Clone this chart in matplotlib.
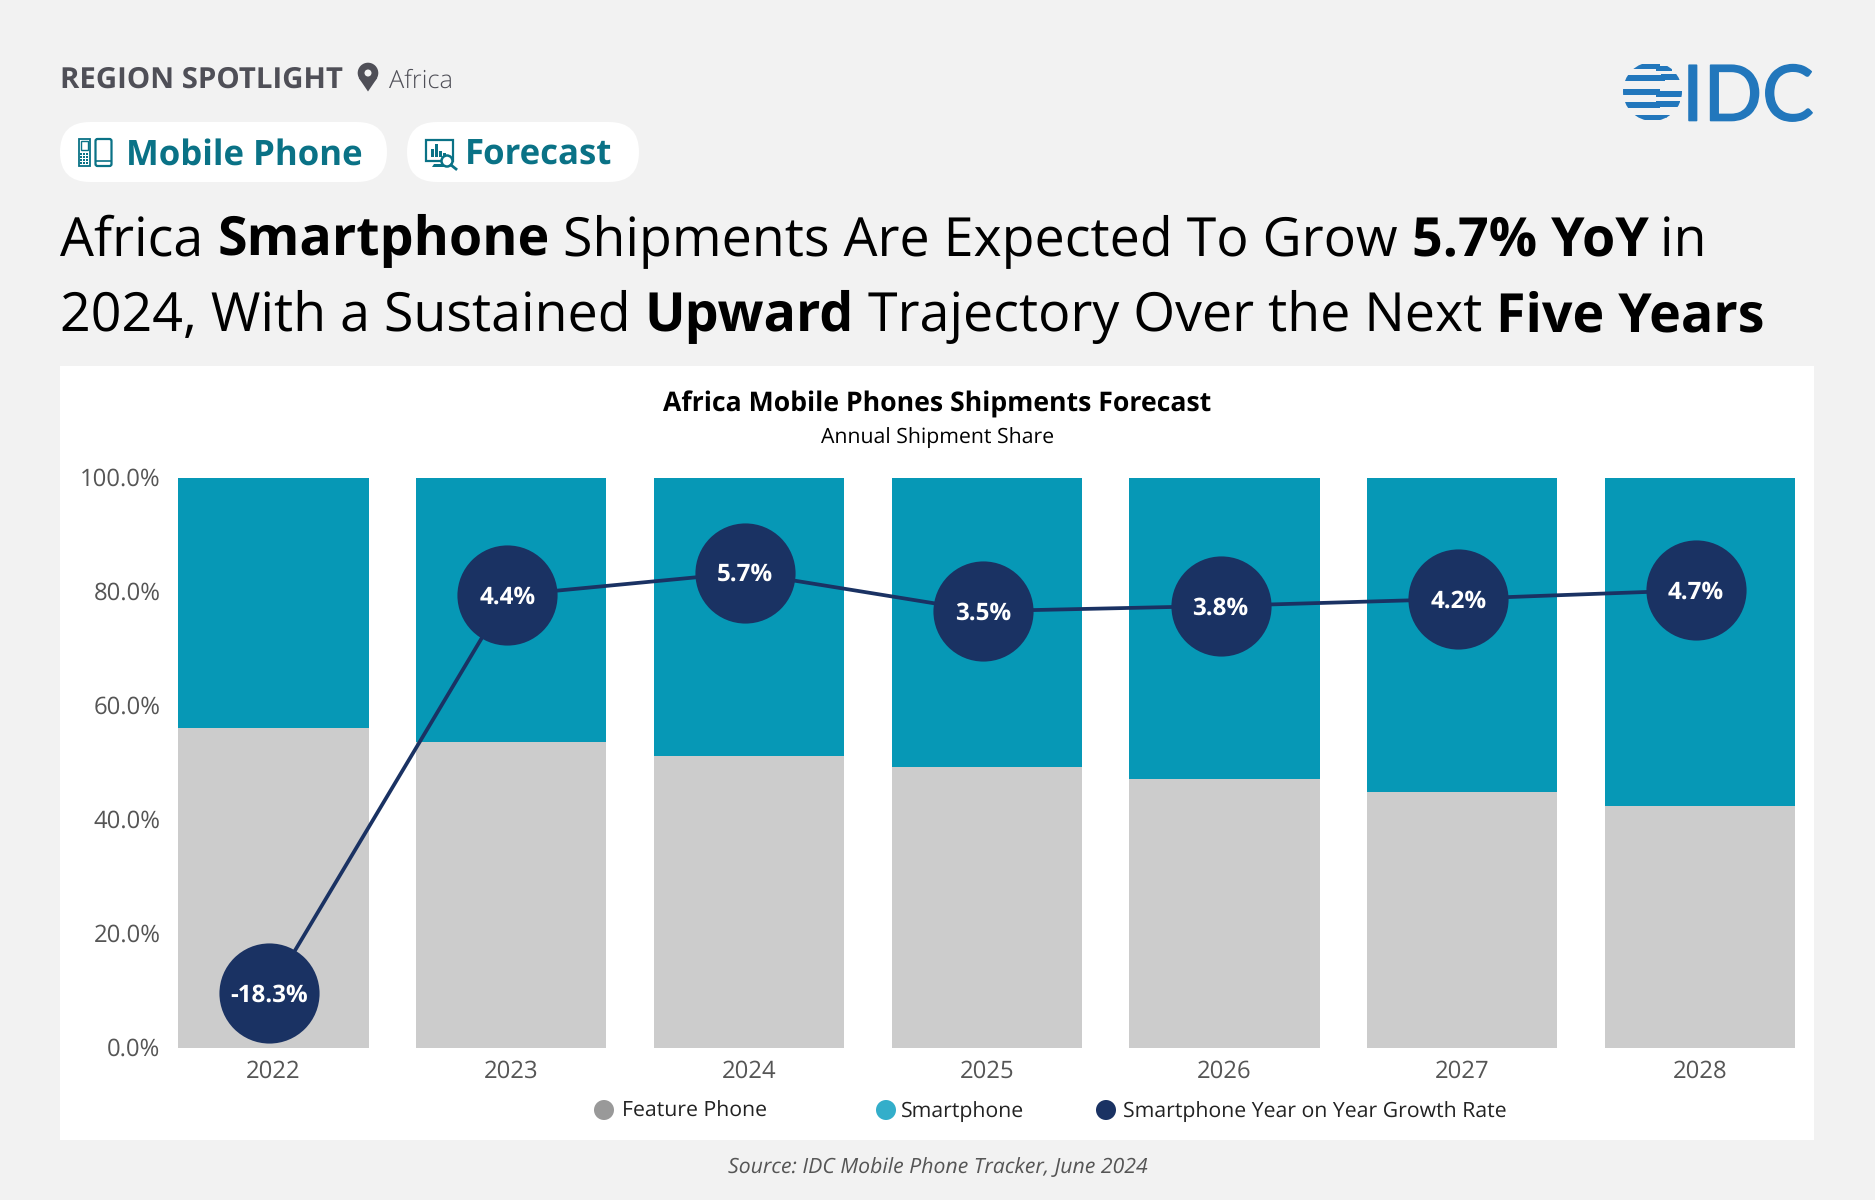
import matplotlib
matplotlib.use('Agg')
import matplotlib.pyplot as plt
import matplotlib.patheffects as pe
from matplotlib.patches import Circle, FancyBboxPatch, Polygon, Rectangle
from matplotlib.transforms import ScaledTranslation

plt.rcParams['font.family'] = ['Open Sans', 'DejaVu Sans']
plt.rcParams['text.hinting'] = 'none'

years = ['2022', '2023', '2024', '2025', '2026', '2027', '2028']
feature_share = [56.1, 53.6, 51.1, 49.2, 47.1, 44.8, 42.4]
smart_share = [43.9, 46.4, 48.9, 50.8, 52.9, 55.2, 57.6]
growth = [-18.3, 4.4, 5.7, 3.5, 3.8, 4.2, 4.7]
growth_labels = ['-18.3%', '4.4%', '5.7%', '3.5%', '3.8%', '4.2%', '4.7%']
y_ticks = [0, 20, 40, 60, 80, 100]

title_line1 = [('Africa ', 'normal'), ('Smartphone', 'bold'), (' Shipments Are Expected To Grow ', 'normal'),
               ('5.7% YoY', 'bold'), (' in', 'normal')]
title_line2 = [('2024, With a Sustained ', 'normal'), ('Upward', 'bold'), (' Trajectory Over the Next ', 'normal'),
               ('Five Years', 'bold')]

BG = '#F2F2F2'
TEAL = '#0698B6'
GREY = '#CCCCCC'
NAVY = '#1A3263'
PILL_TEXT = '#0A7286'
DARK = '#4F4F57'
LOGO = '#2277BC'

W, H = 1875, 1200
fig = plt.figure(figsize=(W / 100, H / 100), dpi=100, facecolor=BG)


# page furniture lives on a full figure axes in pixel coords
page = fig.add_axes([0, 0, 1, 1], zorder=0)
page.set_xlim(0, W)
page.set_ylim(H, 0)
page.axis('off')


def rich_text(x, y, runs, size):
    rend = fig.canvas.get_renderer()
    for s, weight in runs:
        page.text(x, y, s, fontsize=size, fontweight=weight, color='black', va='baseline', ha='left')
        # trailing spaces are not measured on their own, so pad with a dot
        a = page.text(0, 0, s + '.', fontsize=size, fontweight=weight)
        b = page.text(0, 0, '.', fontsize=size, fontweight=weight)
        x += a.get_window_extent(rend).width - b.get_window_extent(rend).width
        a.remove()
        b.remove()


def pill(x0, x1, y0, y1):
    page.add_patch(FancyBboxPatch((x0, y0), x1 - x0, y1 - y0, boxstyle='round,pad=0,rounding_size=30',
                                  fc='white', ec='none'))


def draw_phone_icons():
    page.add_patch(Rectangle((78.5, 139), 11, 27, fc='none', ec=PILL_TEXT, lw=1.3))
    page.add_patch(Rectangle((80.5, 141), 7, 9, fc='none', ec=PILL_TEXT, lw=1))
    for row in range(4):
        for col in range(3):
            page.add_patch(Rectangle((80 + col * 3, 153 + row * 3), 2.2, 2.2, fc=PILL_TEXT, ec='none'))
    page.add_patch(FancyBboxPatch((95.5, 139), 16, 27, boxstyle='round,pad=0,rounding_size=2',
                                  fc='none', ec=PILL_TEXT, lw=1.6))
    page.plot([96, 111], [161, 161], color=PILL_TEXT, lw=1.2)


def draw_forecast_icon():
    page.add_patch(Rectangle((426, 140), 27, 21, fc='none', ec=PILL_TEXT, lw=1.6))
    for bx, bh in [(431, 8), (435, 13), (439, 6), (443, 4)]:
        page.add_patch(Rectangle((bx, 157 - bh), 2.5, bh, fc=PILL_TEXT, ec='none'))
    page.add_patch(Polygon([[434, 164], [444, 164], [446, 167], [432, 167]], fc=PILL_TEXT, ec='none'))
    page.add_patch(Circle((447, 161), 5.5, fc='white', ec=PILL_TEXT, lw=1.8))
    page.plot([451, 456], [165, 169], color=PILL_TEXT, lw=2)


def draw_pin():
    page.add_patch(Polygon([[358.8, 78], [377.2, 78], [368, 91.5]], fc=DARK, ec='none'))
    page.add_patch(Circle((368, 73), 10.3, fc=DARK, ec='none'))
    page.add_patch(Circle((368, 73), 3.5, fc=BG, ec='none'))


def draw_logo():
    clip = Circle((1652.5, 91.5), 29.5, transform=page.transData)
    # each band is two pieces with a small step, like the globe in the logo
    for y0, y1, xa, xb, step in [(64, 69, 1620, 1672, 1.5), (75, 81, 1625, 1690, -1.5), (89, 95, 1620, 1690, 1.5),
                                 (102, 108, 1620, 1680, -1.5), (115, 120, 1630, 1680, 1.5)]:
        for r in [Rectangle((xa, y0), 40, y1 - y0, fc=LOGO, ec='none'),
                  Rectangle((xa + 36, y0 + step), xb - xa - 36, y1 - y0, fc=LOGO, ec='none')]:
            page.add_patch(r)
            r.set_clip_path(clip)
    page.text(1682, 120.5, 'IDC', fontsize=55.5, family=['Lato', 'DejaVu Sans'], color=LOGO, va='baseline', ha='left',
              path_effects=[pe.withStroke(linewidth=1.2, foreground=LOGO)])


page.add_patch(Rectangle((60, 366), 1754, 774, fc='white', ec='none'))
page.text(60.5, 80.5, 'REGION SPOTLIGHT', fontsize=21.2, fontweight='bold', color=DARK, va='center', ha='left')
page.text(389, 81, 'Africa', fontsize=18.3, fontweight='light', color=DARK, va='center', ha='left')
draw_pin()
draw_logo()

pill(60, 387, 122, 182)
pill(407, 639, 122, 182)
draw_phone_icons()
draw_forecast_icon()
page.text(125.5, 155.5, 'Mobile Phone', fontsize=25, fontweight='bold', color=PILL_TEXT, va='center', ha='left')
page.text(465, 155.5, 'Forecast', fontsize=25, fontweight='bold', color=PILL_TEXT, va='center', ha='left')

rich_text(60, 255.5, title_line1, 38.7)
rich_text(60, 331, title_line2, 38.7)

page.text(937.5, 404, 'Africa Mobile Phones Shipments Forecast', fontsize=19.2, fontweight='bold',
          color='black', ha='center', va='center')
page.text(937.5, 438, 'Annual Shipment Share', fontsize=15.35, color='black', ha='center', va='center')
page.text(937.5, 1168, 'Source: IDC Mobile Phone Tracker, June 2024', fontsize=15.3, style='italic',
          color='#555555', ha='center', va='center')

# legend is unevenly spaced in the source, so it is placed by hand
for mx, tx, label, col in [(604, 622, 'Feature Phone', '#999999'), (886, 901, 'Smartphone', '#33AECA'),
                           (1106, 1123, 'Smartphone Year on Year Growth Rate', NAVY)]:
    page.add_patch(Circle((mx, 1110), 10, fc=col, ec='none'))
    page.text(tx, 1111.5, label, fontsize=15.3, color='#222222', va='center', ha='left')

# chart
x0, x1 = 154.6, 1819
y_top, y_bot = 478, 1047.5
ax = fig.add_axes([x0 / W, 1 - y_bot / H, (x1 - x0) / W, (y_bot - y_top) / H], zorder=1)
ax.patch.set_alpha(0)
ax.bar(years, feature_share, width=0.8, color=GREY)
ax.bar(years, smart_share, bottom=feature_share, width=0.8, color=TEAL)
ax.set_xlim(-0.5, 6.5)
ax.set_ylim(0, 100)
ax.set_yticks(y_ticks)
ax.set_yticklabels(['%.1f%%' % t for t in y_ticks])
ax.tick_params(axis='both', length=0, labelsize=17.2, labelcolor='#555555')
ax.tick_params(axis='x', pad=9)
ax.tick_params(axis='y', pad=-4.3)
up_1px = ScaledTranslation(0, 1 / 100, fig.dpi_scale_trans)
for lab in ax.get_yticklabels():
    lab.set_transform(lab.get_transform() + up_1px)
for s in ax.spines.values():
    s.set_visible(False)

ax2 = ax.twinx()
ax2.set_ylim(-21.4, 11.1)
ax2.axis('off')
# line sits a few pixels left of the bar centres
shift = ax2.transData + ScaledTranslation(-4 / 100, 0, fig.dpi_scale_trans)
label_shift = ax2.transData + ScaledTranslation(-4 / 100, -2.2 / 100, fig.dpi_scale_trans)
xs = list(range(len(years)))
ax2.plot(xs, growth, color=NAVY, lw=2.7, transform=shift, zorder=2)
ax2.scatter(xs, growth, s=5200, color=NAVY, transform=shift, zorder=3, linewidths=0)
for x, g, lab in zip(xs, growth, growth_labels):
    ax2.text(x, g, lab, color='white', fontsize=17.4, fontweight='bold', ha='center', va='center',
             transform=label_shift, zorder=4)

fig.savefig('out.png', dpi=100, facecolor=BG)
